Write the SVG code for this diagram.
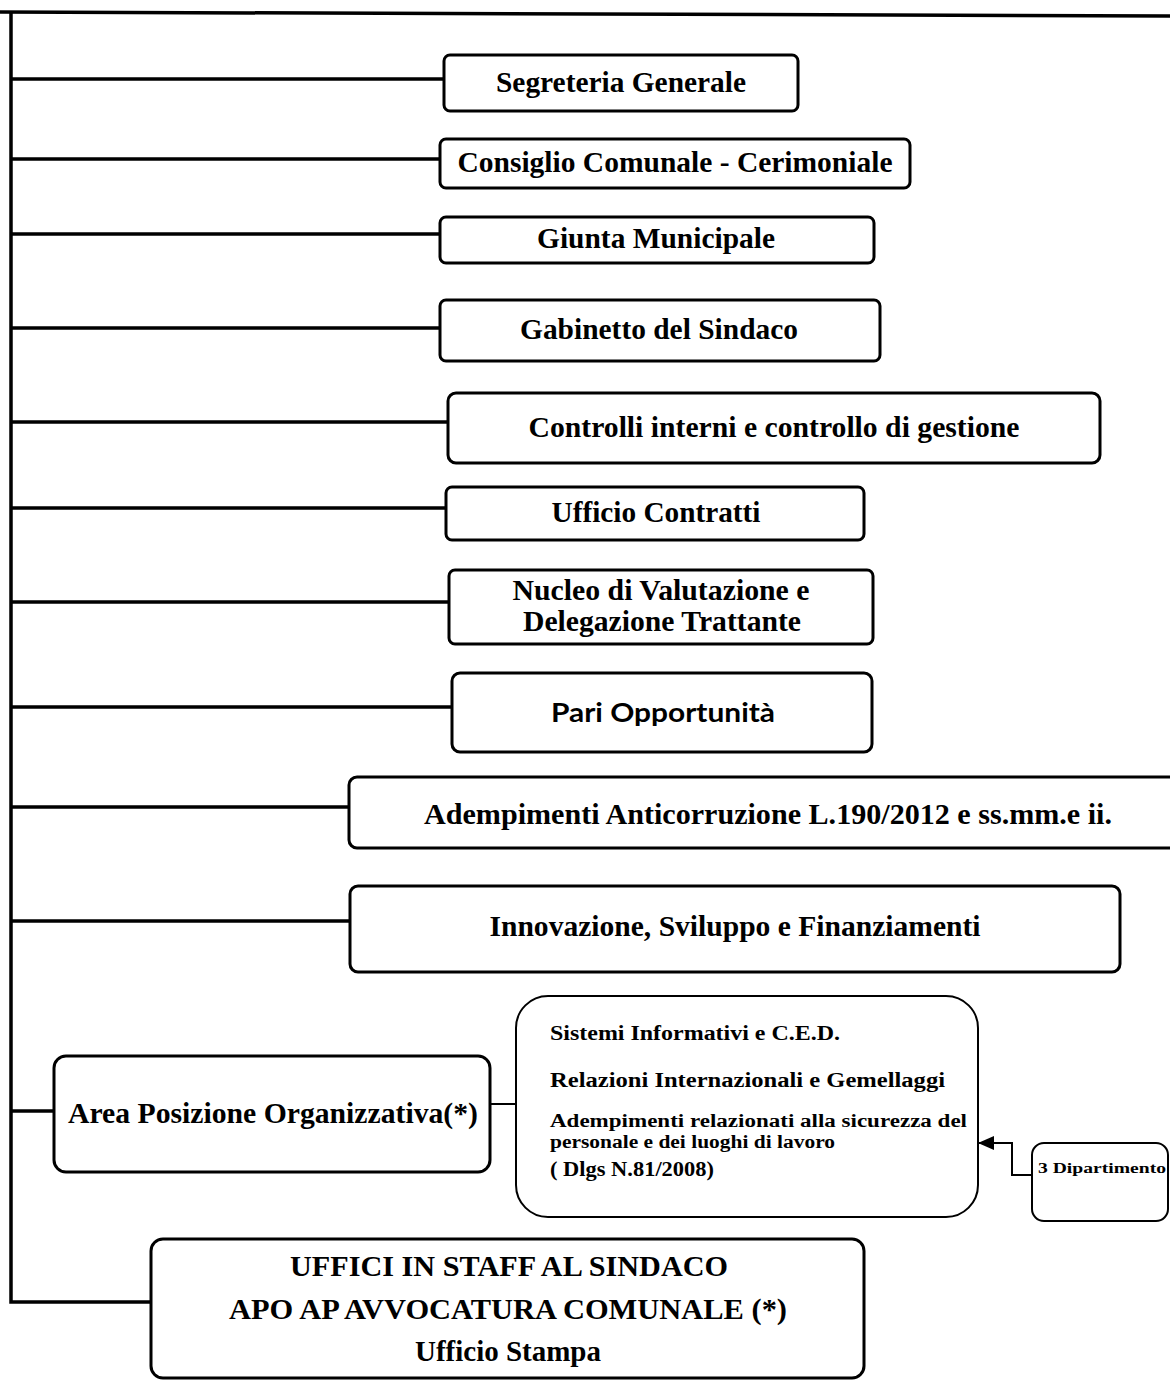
<svg xmlns="http://www.w3.org/2000/svg" width="1170" height="1381" viewBox="0 0 1170 1381">
<defs>
<style>
.bg{fill:#fff}
.box{fill:#fff;stroke:#000;stroke-width:3}
.thin{fill:#fff;stroke:#000;stroke-width:2}
.ln{fill:none;stroke:#000;stroke-width:3.5}
.ln2{fill:none;stroke:#000;stroke-width:2}
.t{font-family:"Liberation Serif","Times New Roman",serif;font-weight:bold;fill:#000;dominant-baseline:central}
.s{font-family:Lato,"Open Sans",sans-serif;font-weight:bold;fill:#000;dominant-baseline:central}
</style>
<marker id="ah" viewBox="0 0 16 14" refX="16" refY="7" markerWidth="16" markerHeight="14" orient="auto" markerUnits="userSpaceOnUse">
<path d="M0,0 L16,7 L0,14 Z" fill="#000"/>
</marker>
</defs>
<rect class="bg" x="0" y="0" width="1170" height="1381"/>
<g id="connectors">
<path class="ln" d="M0,12 L1170,16"/>
<path class="ln" d="M11,12 V1302 H152"/>
<path class="ln" d="M11,79 H444"/>
<path class="ln" d="M11,159 H440"/>
<path class="ln" d="M11,234 H440"/>
<path class="ln" d="M11,328 H440"/>
<path class="ln" d="M11,422 H448"/>
<path class="ln" d="M11,508 H446"/>
<path class="ln" d="M11,602 H449"/>
<path class="ln" d="M11,707 H452"/>
<path class="ln" d="M11,807 H349"/>
<path class="ln" d="M11,921 H350"/>
<path class="ln" d="M11,1111 H54"/>
<path class="ln2" d="M490,1104 H516"/>
<path class="ln2" d="M1032,1175 H1012 V1143 H978" marker-end="url(#ah)"/>
</g>
<g id="n1"><rect class="box" x="444" y="55" width="354" height="56" rx="6"/><text class="t" x="621" y="82" font-size="29" text-anchor="middle" textLength="250" lengthAdjust="spacingAndGlyphs">Segreteria Generale</text></g>
<g id="n2"><rect class="box" x="440" y="139" width="470" height="49" rx="6"/><text class="t" x="675" y="162" font-size="29" text-anchor="middle" textLength="435" lengthAdjust="spacingAndGlyphs">Consiglio Comunale - Cerimoniale</text></g>
<g id="n3"><rect class="box" x="440" y="217" width="434" height="46" rx="6"/><text class="t" x="656" y="238" font-size="29" text-anchor="middle" textLength="238" lengthAdjust="spacingAndGlyphs">Giunta Municipale</text></g>
<g id="n4"><rect class="box" x="440" y="300" width="440" height="61" rx="6"/><text class="t" x="659" y="329" font-size="29" text-anchor="middle" textLength="278" lengthAdjust="spacingAndGlyphs">Gabinetto del Sindaco</text></g>
<g id="n5"><rect class="box" x="448" y="393" width="652" height="70" rx="8"/><text class="t" x="774" y="427" font-size="29" text-anchor="middle" textLength="491" lengthAdjust="spacingAndGlyphs">Controlli interni e controllo di gestione</text></g>
<g id="n6"><rect class="box" x="446" y="487" width="418" height="53" rx="6"/><text class="t" x="656" y="512" font-size="29" text-anchor="middle" textLength="209" lengthAdjust="spacingAndGlyphs">Ufficio Contratti</text></g>
<g id="n7"><rect class="box" x="449" y="570" width="424" height="74" rx="6"/><text class="t" x="661" y="590" font-size="29" text-anchor="middle" textLength="297" lengthAdjust="spacingAndGlyphs">Nucleo di Valutazione e</text><text class="t" x="662" y="621" font-size="29" text-anchor="middle" textLength="278" lengthAdjust="spacingAndGlyphs">Delegazione Trattante</text></g>
<g id="n8"><rect class="box" x="452" y="673" width="420" height="79" rx="8"/><text class="s" x="663" y="711" font-size="27" text-anchor="middle" textLength="224" lengthAdjust="spacingAndGlyphs">Pari Opportunità</text></g>
<g id="n9"><rect class="box" x="349" y="777" width="840" height="71" rx="8"/><text class="t" x="768" y="814" font-size="29" text-anchor="middle" textLength="688" lengthAdjust="spacingAndGlyphs">Adempimenti Anticorruzione L.190/2012 e ss.mm.e ii.</text></g>
<g id="n10"><rect class="box" x="350" y="886" width="770" height="86" rx="8"/><text class="t" x="735" y="926" font-size="29" text-anchor="middle" textLength="491" lengthAdjust="spacingAndGlyphs">Innovazione, Sviluppo e Finanziamenti</text></g>
<g id="n11"><rect class="box" x="54" y="1056" width="436" height="116" rx="12"/><text class="t" x="273" y="1112" font-size="30" text-anchor="middle" textLength="410" lengthAdjust="spacingAndGlyphs">Area Posizione Organizzativa(*)</text></g>
<g id="n12"><rect class="thin" x="516" y="996" width="462" height="221" rx="32"/>
<text class="t" x="550" y="1033" font-size="20" textLength="290" lengthAdjust="spacingAndGlyphs">Sistemi Informativi e C.E.D.</text>
<text class="t" x="550" y="1080" font-size="20" textLength="395" lengthAdjust="spacingAndGlyphs">Relazioni Internazionali e  Gemellaggi</text>
<text class="t" x="550" y="1121" font-size="18" textLength="417" lengthAdjust="spacingAndGlyphs">Adempimenti relazionati alla sicurezza del</text>
<text class="t" x="550" y="1142" font-size="18" textLength="285" lengthAdjust="spacingAndGlyphs">personale e dei luoghi di lavoro</text>
<text class="t" x="550" y="1169" font-size="20" textLength="164" lengthAdjust="spacingAndGlyphs">( Dlgs N.81/2008)</text></g>
<g id="n13"><rect class="thin" x="1032" y="1143" width="136" height="78" rx="12"/><text class="t" x="1038" y="1168" font-size="15" textLength="128" lengthAdjust="spacingAndGlyphs">3  Dipartimento</text></g>
<g id="n14"><rect class="box" x="151" y="1239" width="713" height="139" rx="12"/>
<text class="t" x="509" y="1266" font-size="29" text-anchor="middle" textLength="438" lengthAdjust="spacingAndGlyphs">UFFICI  IN STAFF AL SINDACO</text>
<text class="t" x="508" y="1309" font-size="29" text-anchor="middle" textLength="558" lengthAdjust="spacingAndGlyphs">APO  AP AVVOCATURA COMUNALE (*)</text>
<text class="t" x="508" y="1351" font-size="29" text-anchor="middle" textLength="186" lengthAdjust="spacingAndGlyphs">Ufficio Stampa</text></g>
</svg>
